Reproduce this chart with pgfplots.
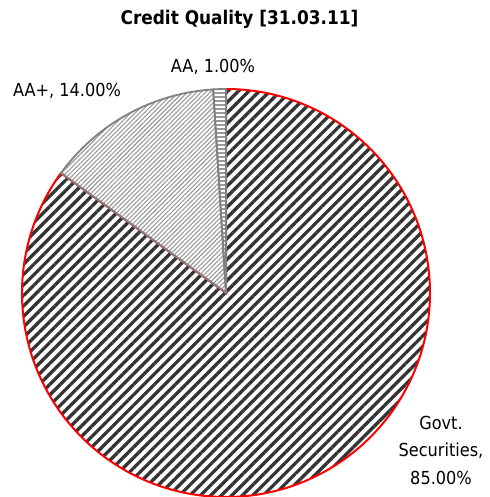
\documentclass[border=0pt]{standalone}
\usepackage{fontspec}
\setmainfont{DejaVu Sans Condensed}
\usepackage{pgfplots}
\pgfplotsset{compat=1.18}
\usetikzlibrary{patterns.meta}
\begin{document}
\begin{tikzpicture}
\begin{axis}[
  scale only axis, width=490bp, height=497bp,
  xmin=-226, xmax=264, ymin=-204, ymax=293,
  enlargelimits=false,
  axis lines=none, clip=false,
]
% shares in percent
\def\govt{85}\def\aaplus{14}\def\aa{1}
% Govt. Securities (from 90 deg, clockwise)
\addplot[draw=red, line width=2bp, pattern={Lines[angle=45,distance=7.4bp,line width=3.3bp]}, pattern color=black!80]
  coordinates {(0,0) (0,204)} arc[start angle=90, delta angle=-3.6*\govt, radius=204bp] -- cycle;
% AA+
\addplot[draw=gray, line width=1.8bp, pattern={Lines[angle=45,distance=3.2bp,line width=1.1bp]}, pattern color=gray!80]
  coordinates {(0,0) (-165.04,119.91)} arc[start angle=144, delta angle=-3.6*\aaplus, radius=204bp] -- cycle;
% AA
\addplot[draw=gray, line width=1.8bp, pattern={Lines[angle=0,distance=4bp,line width=2bp]}, pattern color=gray!80]
  coordinates {(0,0) (-12.81,203.6)} arc[start angle=93.6, delta angle=-3.6*\aa, radius=204bp] -- cycle;
\node[anchor=base, font=\bfseries\fontsize{18.9}{22}\selectfont] at (axis cs:13.5,268.7) {Credit Quality [31.03.11]};
\node[anchor=base, font=\fontsize{18}{20}\selectfont] at (axis cs:-13,220) {AA, 1.00\%};
\node[anchor=base, font=\fontsize{18}{20}\selectfont] at (axis cs:-159,196.3) {AA+, 14.00\%};
\node[anchor=base, font=\fontsize{18}{20}\selectfont] at (axis cs:215,-136.3) {Govt.};
\node[anchor=base, font=\fontsize{18}{20}\selectfont] at (axis cs:215,-163.7) {Securities,};
\node[anchor=base, font=\fontsize{18}{20}\selectfont] at (axis cs:215,-191) {85.00\%};
\coordinate (SW) at (axis cs:-226,-204);
\coordinate (NE) at (axis cs:264,293);
\end{axis}
\pgfresetboundingbox
\path (SW) rectangle (NE);
\end{tikzpicture}
\end{document}
